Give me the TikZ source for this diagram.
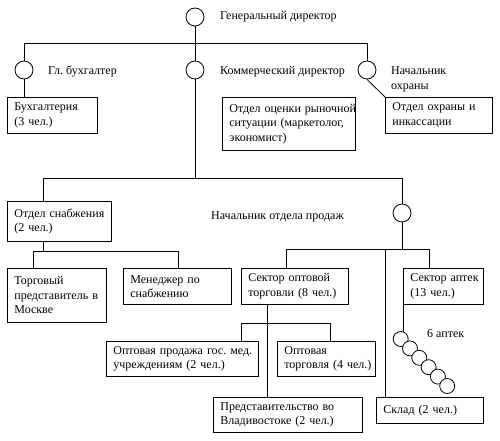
\documentclass[tikz,border=0pt]{standalone}
\usepackage{fontspec}
\setmainfont{Liberation Serif}
\frenchspacing
\newcommand\bl[1]{\mbox{\hspace*{7pt}#1}}
\begin{document}
\begin{tikzpicture}[x=1pt,y=-1pt,
  every node/.style={font=\fontsize{12}{14.5}\selectfont},
  box/.style={draw, line width=0.8pt, anchor=north west, align=left, inner xsep=0pt, inner ysep=0pt},
  circ/.style={draw, circle, line width=0.8pt, fill=white, minimum size=18pt, inner sep=0pt},
  smallcirc/.style={draw, circle, line width=0.8pt, fill=white, minimum size=15pt, inner sep=0pt},
  lbl/.style={anchor=west, align=left, inner sep=0pt},
  conn/.style={line width=0.8pt}]
\useasboundingbox[fill=white] (0,0) rectangle (500,441);
% circles and labels of the top level
\node[circ] (c0) at (195,17) {};
\node[lbl] (t0) at (220,17) {Генеральный директор};
\node[circ] (c1) at (24,70) {};
\node[circ] (c2) at (195,70) {};
\node[circ] (c3) at (367,70) {};
\node[lbl] (t1) at (48,72) {Гл. бухгалтер};
\node[lbl] (t2) at (220,72) {Коммерческий директор};
\node[lbl] (t3) at (391,79.5) {Начальник\\охраны};
% boxes
\node[box, minimum width=90pt, minimum height=36pt, text width=90pt] (buh) at (7,97) {\bl{Бухгалтерия}\\\bl{(3 чел.)}};
\node[box, minimum width=133pt, minimum height=53pt, text width=133pt] (ocen) at (222,97) {\bl{Отдел оценки рыночной}\\\bl{ситуации (маркетолог,}\\\bl{экономист)}};
\node[box, minimum width=107pt, minimum height=36pt, text width=107pt] (ohr) at (385,97) {\bl{Отдел охраны и}\\\bl{инкассации}};
\node[box, minimum width=104pt, minimum height=40pt, text width=104pt] (snab) at (7,201) {\bl{Отдел снабжения}\\\bl{(2 чел.)}};
\node[lbl] (tnop) at (211,217) {Начальник отдела продаж};
\node[circ] (c4) at (402,213) {};
\node[box, minimum width=99pt, minimum height=54pt, text width=99pt] (torg) at (7,268) {\bl{Торговый}\\\bl{представитель в}\\\bl{Москве}};
\node[box, minimum width=108pt, minimum height=36pt, text width=108pt] (men) at (123,268) {\bl{Менеджер по}\\\bl{снабжению}};
\node[box, minimum width=107pt, minimum height=36pt, text width=107pt] (sopt) at (241,268) {\bl{Сектор оптовой}\\\bl{торговли (8 чел.)}};
\node[box, minimum width=80pt, minimum height=36pt, text width=80pt] (apt) at (403,268) {\bl{Сектор аптек}\\\bl{(13 чел.)}};
\node[box, minimum width=152pt, minimum height=35pt, text width=152pt] (optprod) at (106,341) {\bl{Оптовая продажа гос. мед.}\\\bl{учреждениям (2 чел.)}};
\node[box, minimum width=98pt, minimum height=35pt, text width=98pt] (opttorg) at (277,341) {\bl{Оптовая}\\\bl{торговля (4 чел.)}};
\node[box, minimum width=149pt, minimum height=35pt, text width=149pt] (pred) at (213,397) {\bl{Представительство во}\\\bl{Владивостоке (2 чел.)}};
\node[box, minimum width=107pt, minimum height=26pt, text width=107pt] (sklad) at (376,397) {\bl{Склад (2 чел.)}};
\node[lbl] (t6) at (427,334) {6 аптек};
% bus coordinates
\coordinate (b1) at (195,43);
\coordinate (b2l) at (43,178);
\coordinate (b2r) at (402,178);
\coordinate (b3l) at (286,249);
\coordinate (b3m) at (385,249);
\coordinate (b3r) at (429,249);
\coordinate (b4) at (43,251);
\coordinate (b4l) at (33,251);
\coordinate (b4r) at (178,251);
\coordinate (b5m) at (267,323);
\coordinate (b5l) at (241,323);
\coordinate (b5r) at (330,323);
% connectors
\draw[conn] (c0.south) -- (c2.north);
\draw[conn] (c1.north) -- (c1.north |- b1) -| (c3.north);
\draw[conn] (c1.south) -- (c1.south |- buh.north);
\draw[conn] (c3.south) -- (ohr.north west);
\draw[conn] (c2.south) -- (c2.south |- b2l);
\draw[conn] (b2l |- snab.north) -- (b2l) -- (b2r) -- (c4.north);
\draw[conn] (c4.south) -- (c4.south |- b3m);
\draw[conn] (b3l |- sopt.north) -- (b3l) -- (b3r) -- (b3r |- apt.north);
\draw[conn] (b3m) -- (b3m |- sklad.north);
\draw[conn] (b4 |- snab.south) -- (b4);
\draw[conn] (b4l |- torg.north) -- (b4l) -- (b4r) -- (b4r |- men.north);
\draw[conn] (b5m |- sopt.south) -- (b5m |- pred.north);
\draw[conn] (b5l |- optprod.north) -- (b5l) -- (b5r) -- (b5r |- opttorg.north);
% chain of pharmacies
\coordinate (a0) at (400.7,339);
\draw[conn] (apt.south west) -- (apt.south west |- a0);
\foreach \i in {1,...,6} {
  \node[smallcirc] (a\i) at (400.7+9.3*\i-9.3, 339+9.4*\i-9.4) {};
}
\end{tikzpicture}
\end{document}
